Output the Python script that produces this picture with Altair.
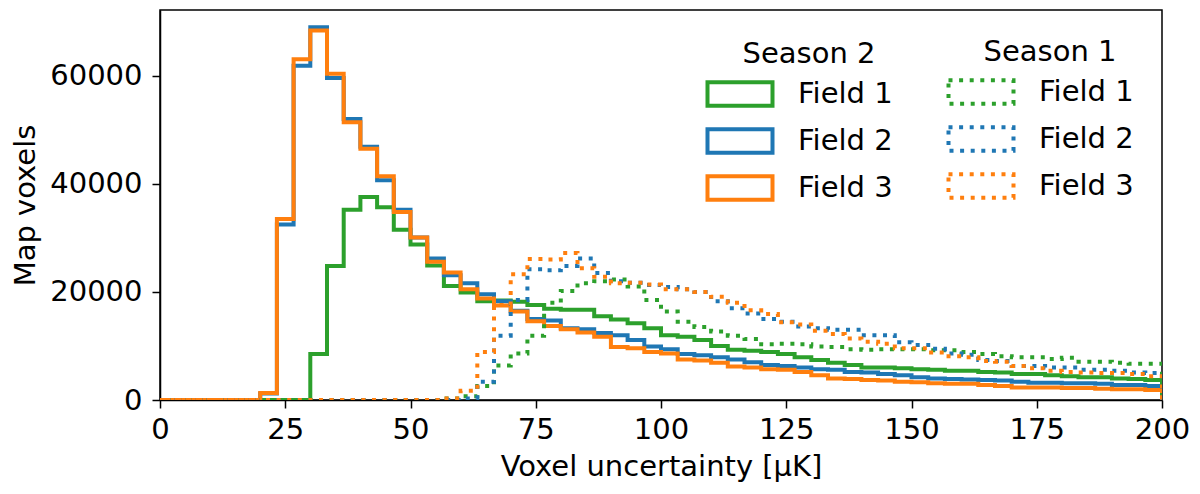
import numpy as np
import pandas as pd
import altair as alt

# ── colours (matplotlib tab10) ───────────────────────────────────────────────

GREEN  = "#2ca02c"
BLUE   = "#1f77b4"
ORANGE = "#ff7f0e"

FONT = "DejaVu Sans"
FONT_SIZE = 29

FIELDS       = ["Field 1", "Field 2", "Field 3"]
FIELD_COLORS = [GREEN, BLUE, ORANGE]

# 60 histogram bins of width 10/3 between 0 and 200 µK
BIN_EDGES = np.linspace(0, 200, 61)

# ── counts per bin, thousands of voxels ──────────────────────────────────────

S2_FIELD1 = [
    0, 0, 0, 0, 0, 0, 0, 0, 0, 8.5,
    24.8, 35.2, 37.6, 35.7, 31.5, 28.8, 24.9, 21.1, 19.9, 18.3,
    18.4, 18.2, 17.6, 16.9, 16.7, 16.7, 15.5, 14.9, 14.2, 13.3,
    12.0, 11.7, 11.1, 10.0, 9.3, 9.1, 8.9, 8.5, 7.9, 7.4,
    6.9, 6.5, 6.0, 6.0, 5.9, 5.7, 5.6, 5.4, 5.4, 5.2,
    5.1, 4.8, 4.8, 4.6, 4.4, 4.2, 4.2, 4.0, 3.9, 3.7,
]
S2_FIELD2 = [
    0, 0, 0, 0, 0, 0, 1.2, 32.5, 61.9, 69.0,
    59.6, 52.0, 46.9, 40.7, 35.2, 30.1, 26.2, 23.1, 21.6, 19.6,
    18.3, 16.5, 15.0, 14.7, 13.3, 13.1, 12.4, 12.0, 11.1, 9.9,
    9.4, 8.5, 8.3, 7.9, 7.5, 7.0, 6.5, 6.3, 6.0, 5.7,
    5.6, 5.2, 5.1, 4.8, 4.6, 4.2, 4.0, 3.9, 3.8, 3.7,
    3.6, 3.4, 3.2, 3.2, 3.1, 3.1, 3.0, 2.8, 2.8, 2.6,
]
S2_FIELD3 = [
    0, 0, 0, 0, 0, 0, 1.3, 33.5, 63.1, 68.4,
    60.4, 51.4, 46.5, 41.4, 34.8, 30.1, 25.6, 23.6, 20.5, 18.8,
    17.5, 16.4, 14.6, 13.7, 13.1, 12.5, 11.7, 9.8, 9.6, 8.9,
    8.6, 7.5, 7.3, 6.9, 6.2, 6.0, 5.7, 5.6, 5.2, 4.6,
    4.0, 3.9, 3.7, 3.6, 3.4, 3.3, 3.1, 3.0, 3.0, 2.8,
    2.6, 2.3, 2.3, 2.3, 2.2, 2.2, 2.1, 2.0, 2.0, 1.85,
]

S1_FIELD1 = [
    0, 0, 0, 0, 0, 0, 0, 0, 0, 0,
    0, 0, 0, 0, 0, 0, 0, 0.3, 0.7, 2.6,
    6.4, 8.6, 11.9, 18.0, 20.2, 21.6, 22.0, 22.3, 21.0, 18.5,
    16.4, 14.5, 13.5, 12.7, 11.9, 11.3, 10.3, 10.4, 10.3, 9.9,
    9.8, 9.4, 9.3, 9.4, 9.4, 9.4, 9.2, 9.2, 8.9, 8.5,
    8.1, 7.9, 7.9, 7.6, 7.8, 7.1, 7.1, 6.9, 6.7, 6.7,
]
S1_FIELD2 = [
    0, 0, 0, 0, 0, 0, 0, 0, 0, 0,
    0, 0, 0, 0, 0, 0, 0, 0, 0.3, 3.4,
    11.9, 18.5, 24.2, 24.0, 24.8, 26.2, 23.5, 22.0, 21.7, 21.3,
    20.9, 20.5, 20.0, 18.3, 17.0, 16.0, 15.0, 14.5, 13.6, 13.3,
    13.0, 13.0, 12.0, 12.0, 10.7, 10.2, 9.5, 8.6, 8.4, 7.4,
    7.2, 6.3, 6.3, 6.0, 6.0, 5.6, 5.6, 5.4, 5.1, 5.0,
]
S1_FIELD3 = [
    0, 0, 0, 0, 0, 0, 0, 0, 0, 0,
    0, 0, 0, 0, 0, 0, 0, 0.3, 1.7, 8.9,
    17.6, 23.3, 26.1, 26.0, 27.2, 24.4, 22.8, 21.6, 21.7, 21.4,
    20.5, 20.5, 20.0, 19.1, 18.0, 16.6, 15.9, 14.4, 14.0, 12.8,
    12.2, 11.4, 10.8, 10.4, 9.6, 9.6, 8.8, 8.1, 7.9, 7.2,
    7.1, 6.3, 5.9, 5.4, 5.2, 5.1, 5.0, 5.0, 4.8, 4.4,
]

LINE_WIDTH = 4
DOTS = [4, 6.6]     # matplotlib ':' pattern scaled by the line width

# legend swatch: wide outlined rectangle
RECT_SYMBOL = "M-2.5,-0.9H2.5V0.9H-2.5Z"


def step_frame(series) -> pd.DataFrame:
    """One row per bin left edge, plus a closing point back at zero."""
    rows = []
    for field, counts in zip(FIELDS, series):
        for edge, c in zip(BIN_EDGES[:-1], counts):
            rows.append({"field": field, "x": float(edge), "voxels": c * 1000})
        rows.append({"field": field, "x": float(BIN_EDGES[-1]), "voxels": 0})
    return pd.DataFrame(rows)


season2 = step_frame([S2_FIELD1, S2_FIELD2, S2_FIELD3])
season1 = step_frame([S1_FIELD1, S1_FIELD2, S1_FIELD3])

x_enc = alt.X(
    "x:Q",
    scale=alt.Scale(domain=[0, 200], nice=False),
    axis=alt.Axis(values=list(range(0, 201, 25)), title="Voxel uncertainty [μK]"),
)
y_enc = alt.Y(
    "voxels:Q",
    scale=alt.Scale(domain=[0, 72200], nice=False),
    axis=alt.Axis(values=[0, 20000, 40000, 60000], format="d", title="Map voxels"),
)
field_scale = alt.Scale(domain=FIELDS, range=FIELD_COLORS)

legend_common = dict(
    symbolType=RECT_SYMBOL,
    symbolSize=676,
    symbolStrokeWidth=LINE_WIDTH,
    symbolFillColor="transparent",
    labelOffset=43,
    rowPadding=7,
    titlePadding=10,
    titleAnchor="middle",
    padding=0,
)

solid = (
    alt.Chart(season2)
    .mark_line(interpolate="step-after", strokeWidth=LINE_WIDTH, clip=True)
    .encode(
        x=x_enc,
        y=y_enc,
        color=alt.Color(
            "field:N",
            scale=field_scale,
            legend=alt.Legend(
                title="Season 2", orient="none", legendX=565, legendY=30,
                **legend_common,
            ),
        ),
    )
)

dotted = (
    alt.Chart(season1)
    .mark_line(
        interpolate="step-after",
        strokeWidth=LINE_WIDTH,
        strokeDash=DOTS,
        strokeCap="butt",
        clip=True,
    )
    .encode(
        x=x_enc,
        y=y_enc,
        stroke=alt.Stroke(
            "field:N",
            scale=field_scale,
            legend=alt.Legend(
                title="Season 1", orient="top-right", offset=28,
                symbolDash=DOTS, **legend_common,
            ),
        ),
    )
)

chart = (
    alt.layer(solid, dotted)
    .properties(
        width=1002,
        height=390,
        autosize=alt.AutoSizeParams(type="none"),
        padding={"left": 152, "top": 2, "right": 30, "bottom": 86},
    )
    .configure(font=FONT, background="white")
    .configure_view(stroke="black", strokeWidth=1.5)
    .configure_axis(
        grid=False,
        domainColor="black",
        domainWidth=1.5,
        tickColor="black",
        tickWidth=1.5,
        tickSize=8,
        labelColor="black",
        titleColor="black",
        labelFont=FONT,
        titleFont=FONT,
        labelFontSize=FONT_SIZE,
        titleFontSize=FONT_SIZE,
        titleFontWeight="normal",
        labelFlush=False,
        labelOverlap=False,
    )
    .configure_axisX(labelPadding=7, titlePadding=8)
    .configure_axisY(labelPadding=10, titlePadding=9)
    .configure_legend(
        labelFont=FONT,
        titleFont=FONT,
        labelFontSize=FONT_SIZE,
        titleFontSize=FONT_SIZE,
        titleFontWeight="normal",
        labelColor="black",
        titleColor="black",
    )
)

chart.save("out.html", embed_options={"renderer": "svg", "actions": False})
